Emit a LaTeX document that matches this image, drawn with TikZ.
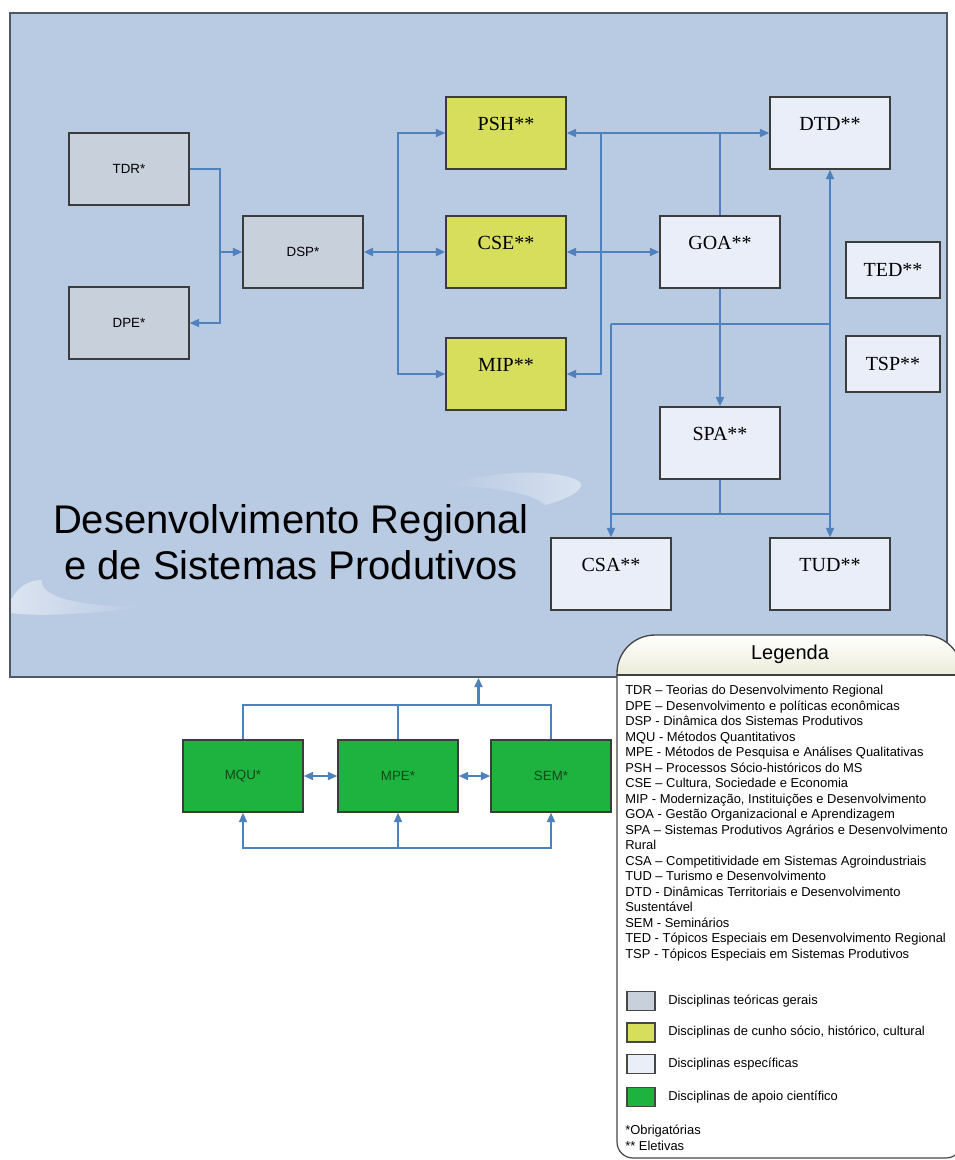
\documentclass[tikz,border=0pt]{standalone}
\usepackage{fontspec}
\setmainfont{Liberation Serif}
\setsansfont{Liberation Sans}
\usetikzlibrary{arrows.meta,fadings,calc}
\definecolor{panelbg}{RGB}{185,202,227}
\definecolor{panelborder}{RGB}{80,88,100}
\definecolor{genfill}{RGB}{200,208,220}
\definecolor{socfill}{RGB}{214,222,92}
\definecolor{specfill}{RGB}{233,238,248}
\definecolor{scifill}{RGB}{30,178,62}
\definecolor{scitext}{RGB}{20,70,30}
\definecolor{connblue}{RGB}{79,129,189}
\definecolor{boxborder}{RGB}{60,60,60}
\definecolor{headcream}{RGB}{236,236,218}
\definecolor{legborder}{RGB}{70,70,70}
\tikzfading[name=fadeleft, left color=transparent!100, right color=transparent!0]
\tikzfading[name=faderight, left color=transparent!0, right color=transparent!100]
\tikzset{
  dbox/.style={draw=boxborder, line width=1.1pt, minimum width=90pt, minimum height=54pt, inner sep=0pt},
  bgen/.style={dbox, fill=genfill, font=\sffamily\fontsize{10}{12}\selectfont},
  bsoc/.style={dbox, fill=socfill, font=\fontsize{15}{18}\selectfont, text depth=13.5pt},
  bspec/.style={dbox, fill=specfill, font=\fontsize{15}{18}\selectfont, text depth=13.5pt},
  btiny/.style={dbox, fill=specfill, minimum width=70.5pt, minimum height=42pt, font=\fontsize{15}{18}\selectfont},
  bsci/.style={dbox, fill=scifill, text=scitext, font=\sffamily\fontsize{10}{12}\selectfont},
  conn/.style={draw=connblue, line width=1.25pt},
  tipA/.tip={Triangle[length=7pt,width=6pt]},
  arr/.style={conn, -tipA},
  darr/.style={conn, tipA-tipA},
  legtxt/.style={font=\sffamily\fontsize{9.7}{12}\selectfont, inner sep=0pt},
  swatch/.style={draw=legborder, line width=0.8pt, minimum width=21pt, minimum height=14.25pt, inner sep=0pt},
}
\begin{document}
\begin{tikzpicture}[x=0.75pt,y=-0.75pt]
\clip (0,0) rectangle (955,1160);
\fill[white] (0,0) rectangle (955,1160);
% main panel
\node[draw=panelborder, line width=1.3pt, fill=panelbg, minimum width=702.75pt, minimum height=498pt, inner sep=0pt] (panel) at (478.5,345) {};
% decorative swooshes
\fill[white, opacity=0.45, path fading=fadeleft]
  (445,486) .. controls (490,470) and (560,468) .. (580,482)
  .. controls (586,490) and (565,500) .. (545,505)
  .. controls (535,494) and (495,486) .. (445,486) -- cycle;
\fill[white, opacity=0.5, path fading=faderight]
  (11,600) .. controls (18,586) and (30,580) .. (42,580)
  .. controls (40,598) and (80,606) .. (142,607)
  .. controls (90,614) and (40,617) .. (11,613) -- cycle;
% title
\node[font=\sffamily\fontsize{30}{34.5}\selectfont, align=center, inner sep=0pt] (title) at (291,542) {Desenvolvimento Regional\\e de Sistemas Produtivos};
% boxes
\node[bgen] (TDR) at (129,169) {TDR*};
\node[bgen] (DPE) at (129,323) {DPE*};
\node[bgen] (DSP) at (303,252) {DSP*};
\node[bsoc] (PSH) at (506,133) {PSH**};
\node[bsoc] (CSE) at (506,252) {CSE**};
\node[bsoc] (MIP) at (506,374) {MIP**};
\node[bspec] (DTD) at (830,133) {DTD**};
\node[bspec] (GOA) at (720,252) {GOA**};
\node[bspec] (SPA) at (720,443) {SPA**};
\node[bspec] (CSA) at (611,574) {CSA**};
\node[bspec] (TUD) at (830,574) {TUD**};
\node[btiny] (TED) at (893,270) {TED**};
\node[btiny] (TSP) at (893,364) {TSP**};
\node[bsci] (MQU) at (243,776) {MQU*};
\node[bsci] (MPE) at (398,776) {MPE*};
\node[bsci] (SEM) at (551,776) {SEM*};
% junction coordinates
\coordinate (j1) at (220,252);
\coordinate (j2) at (398,252);
\coordinate (j3) at (601,133);
\coordinate (j4) at (611,324);
\coordinate (j5) at (830,324);
\coordinate (j6) at (720,514);
\coordinate (top) at (398,705);
\coordinate (bot) at (398,848);
% connectors
\draw[arr] (TDR.east) -| (j1) |- (DPE.east);
\draw[arr] (j1) -- (DSP.west);
\draw[darr, line width=1.7pt] (DSP.east) -- (CSE.west);
\draw[arr] (j2) |- (PSH.west);
\draw[arr] (j2) |- (MIP.west);
\draw[darr] (PSH.east) -- (DTD.west);
\draw[arr] (j3) |- (MIP.east);
\draw[darr] (CSE.east) -- (GOA.west);
\draw[conn] (GOA.north) -- (GOA.north |- DTD.west);
\draw[arr, line width=1.6pt] (GOA.south) -- (SPA.north);
\draw[conn] (j4) -- (j5);
\draw[arr] (j4) -- (CSA.north);
\draw[darr] (DTD.south) -- (TUD.north);
\draw[conn] (SPA.south) -- (j6);
\draw[conn] (CSA.north |- j6) -- (TUD.north |- j6);
\draw[conn] (MQU.north) |- (top) -| (SEM.north);
\draw[conn] (MPE.north) -- (top);
\draw[arr, line width=1.6pt] (panel.south |- top) -- (panel.south);
\draw[darr] (MQU.east) -- (MPE.west);
\draw[darr] (MPE.east) -- (SEM.west);
\draw[arr] (bot) -| (MQU.south);
\draw[arr] (bot) -| (SEM.south);
\draw[arr] (bot) -- (MPE.south);
% legend body
\draw[legborder, line width=0.9pt, fill=white, rounded corners=12pt] (617,674) -- (617,1158) -- (962,1158) -- (962,674);
% legend header
\draw[legborder, line width=1pt, top color=white, bottom color=headcream]
  (617,675) -- (617,673) .. controls (617,652) and (634,635) .. (655,635)
  -- (924,635) .. controls (945,635) and (962,652) .. (962,673) -- (962,675) -- cycle;
\draw[legborder!90!black, line width=1.6pt] (617,675) -- (962,675);
\node[font=\sffamily\fontsize{15}{18}\selectfont] (legtitle) at (790,654) {Legenda};
% legend text
\foreach \t [count=\i] in {
  TDR – Teorias do Desenvolvimento Regional,
  DPE – Desenvolvimento e políticas econômicas,
  DSP - Dinâmica dos Sistemas Produtivos,
  MQU - Métodos Quantitativos,
  MPE - Métodos de Pesquisa e Análises Qualitativas,
  PSH – Processos Sócio-históricos do MS,
  {CSE – Cultura, Sociedade e Economia},
  {MIP - Modernização, Instituições e Desenvolvimento},
  GOA - Gestão Organizacional e Aprendizagem,
  SPA – Sistemas Produtivos Agrários e Desenvolvimento,
  Rural,
  CSA – Competitividade em Sistemas Agroindustriais,
  TUD – Turismo e Desenvolvimento,
  DTD - Dinâmicas Territoriais e Desenvolvimento,
  Sustentável,
  SEM - Seminários,
  TED - Tópicos Especiais em Desenvolvimento Regional,
  TSP - Tópicos Especiais em Sistemas Produtivos}
  \node[legtxt, anchor=base west] (leg\i) at (625,{694.5+15.5*(\i-1)}) {\t};
% swatches
\node[swatch, fill=genfill] (sw1) at (641,1001) {};
\node[swatch, fill=socfill] (sw2) at (641,1032.5) {};
\node[swatch, fill=specfill] (sw3) at (641,1064) {};
\node[swatch, fill=scifill] (sw4) at (641,1097) {};
\node[legtxt, anchor=west] (st1) at (668,1001) {Disciplinas teóricas gerais};
\node[legtxt, anchor=west] (st2) at (668,1032.5) {Disciplinas de cunho sócio, histórico, cultural};
\node[legtxt, anchor=west] (st3) at (668,1064) {Disciplinas específicas};
\node[legtxt, anchor=west] (st4) at (668,1097) {Disciplinas de apoio científico};
\node[legtxt, anchor=west] (ob) at (625,1131) {*Obrigatórias};
\node[legtxt, anchor=west] (el) at (625,1146) {** Eletivas};
\end{tikzpicture}
\end{document}
